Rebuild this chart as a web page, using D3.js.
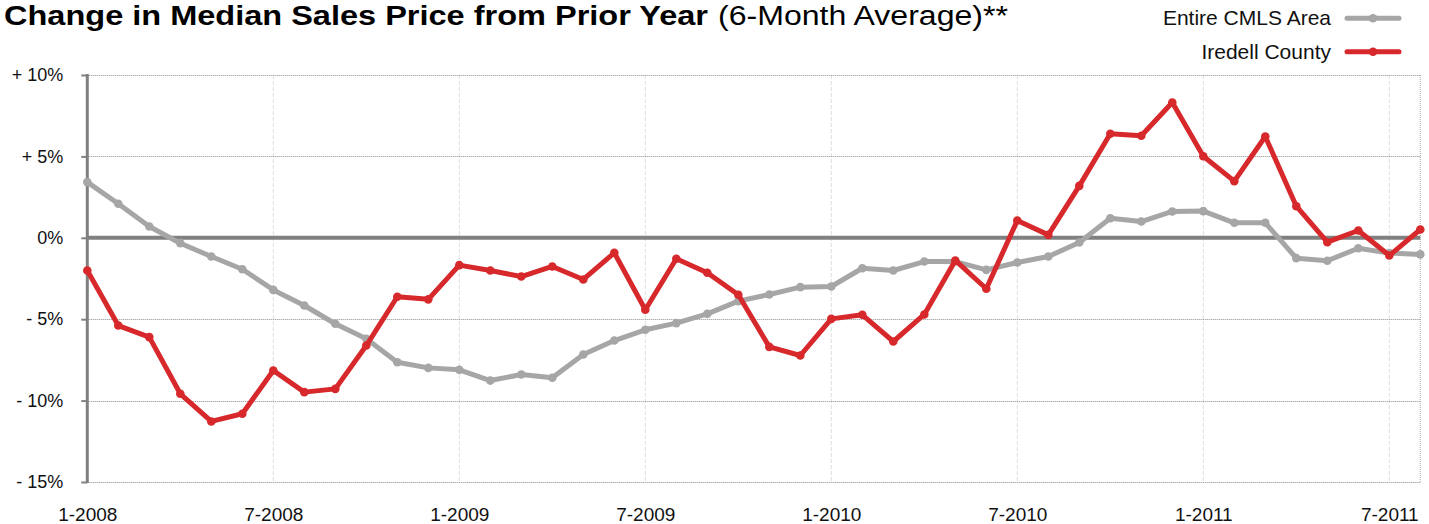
<!DOCTYPE html>
<html>
<head>
<meta charset="utf-8">
<script src="https://cdn.jsdelivr.net/npm/d3@7"></script>
<style>
  body { margin: 0; background: #fff; }
  svg { display: block; font-family: "Liberation Sans", Arial, Helvetica, sans-serif; }
</style>
</head>
<body>
<div id="container"></div>
<script>
/* CONSTANTS AND GLOBALS */
const width = 1429,
  height = 524,
  margin = {top: 75, bottom: 42, left: 87.3, right: 8.7};

// months on the x axis, 1-2008 .. 8-2011
const months = [
  "1-2008","2-2008","3-2008","4-2008","5-2008","6-2008","7-2008","8-2008","9-2008","10-2008","11-2008","12-2008",
  "1-2009","2-2009","3-2009","4-2009","5-2009","6-2009","7-2009","8-2009","9-2009","10-2009","11-2009","12-2009",
  "1-2010","2-2010","3-2010","4-2010","5-2010","6-2010","7-2010","8-2010","9-2010","10-2010","11-2010","12-2010",
  "1-2011","2-2011","3-2011","4-2011","5-2011","6-2011","7-2011","8-2011"
];

// Entire CMLS Area (grey)
const cmls = [
  3.42, 2.09, 0.69, -0.33, -1.15, -1.93, -3.2, -4.16, -5.28, -6.2, -7.64, -7.99,
  -8.11, -8.77, -8.4, -8.6, -7.17, -6.31, -5.65, -5.24, -4.67, -3.89, -3.48, -3.03,
  -2.99, -1.87, -2.01, -1.46, -1.46, -1.97, -1.52, -1.15, -0.29, 1.2, 1.0, 1.62,
  1.64, 0.92, 0.92, -1.25, -1.41, -0.64, -0.94, -1.02
];

// Iredell County (red)
const iredell = [
  -2.01, -5.39, -6.1, -9.58, -11.28, -10.81, -8.15, -9.48, -9.28, -6.62, -3.62, -3.78,
  -1.68, -2.01, -2.38, -1.76, -2.56, -0.92, -4.42, -1.29, -2.15, -3.5, -6.7, -7.23,
  -4.98, -4.73, -6.37, -4.71, -1.39, -3.13, 1.06, 0.18, 3.19, 6.39, 6.27, 8.31,
  5.01, 3.48, 6.22, 1.94, -0.27, 0.45, -1.09, 0.51
];

const xTickLabels = ["1-2008","7-2008","1-2009","7-2009","1-2010","7-2010","1-2011","7-2011"];
const yTicks = [10, 5, 0, -5, -10, -15];
const yTickLabels = ["+ 10%", "+ 5%", "0%", "- 5%", "- 10%", "- 15%"];

const seriesNames = ["Entire CMLS Area", "Iredell County"];
const seriesColors = ["#a6a6a6", "#d7282b"];

/* INITIALIZING */
const svg = d3.select("#container")
  .append("svg")
  .attr("width", width)
  .attr("height", height);

const xScale = d3.scalePoint()
  .domain(months)
  .range([margin.left, width - margin.right]);

const yScale = d3.scaleLinear()
  .domain([-15, 10])
  .range([height - margin.bottom, margin.top]);

// title (bold part + regular part)
svg.append("text")
  .attr("x", 4).attr("y", 25)
  .attr("font-family", "'Liberation Sans Narrow', 'Arial Narrow', sans-serif")
  .attr("font-weight", "bold")
  .attr("font-size", 27)
  .attr("textLength", 704)
  .attr("lengthAdjust", "spacingAndGlyphs")
  .text("Change in Median Sales Price from Prior Year");

svg.append("text")
  .attr("x", 718).attr("y", 25)
  .attr("font-family", "'Liberation Sans Narrow', 'Arial Narrow', sans-serif")
  .attr("font-size", 27)
  .attr("textLength", 290)
  .attr("lengthAdjust", "spacingAndGlyphs")
  .text("(6-Month Average)**");

// vertical grid (every 6 months)
svg.append("g")
  .selectAll("line")
  .data(xTickLabels.slice(1))
  .join("line")
  .attr("x1", d => xScale(d)).attr("x2", d => xScale(d))
  .attr("y1", yScale(10)).attr("y2", yScale(-15))
  .attr("stroke", "#dedede")
  .attr("stroke-width", 1)
  .attr("stroke-dasharray", "4,2");

// right border
svg.append("line")
  .attr("x1", xScale.range()[1]).attr("x2", xScale.range()[1])
  .attr("y1", yScale(10)).attr("y2", yScale(-15))
  .attr("stroke", "#aaa")
  .attr("stroke-dasharray", "1,1");

// horizontal grid (dotted)
svg.append("g")
  .selectAll("line")
  .data(yTicks.filter(d => d !== 0))
  .join("line")
  .attr("x1", margin.left).attr("x2", width - margin.right)
  .attr("y1", d => Math.round(yScale(d)) + 0.5).attr("y2", d => Math.round(yScale(d)) + 0.5)
  .attr("stroke", "#8c8c8c")
  .attr("stroke-width", 1)
  .attr("stroke-dasharray", "1,1");

// zero line
svg.append("line")
  .attr("x1", margin.left).attr("x2", width - margin.right)
  .attr("y1", yScale(0)).attr("y2", yScale(0))
  .attr("stroke", "#808080")
  .attr("stroke-width", 4);

// y axis
const yAxis = d3.axisLeft(yScale)
  .tickValues(yTicks)
  .tickSize(6)
  .tickPadding(18)
  .tickFormat((d, i) => yTickLabels[i]);

const yAxisGroup = svg.append("g")
  .attr("transform", `translate(${margin.left},0)`)
  .call(yAxis);
yAxisGroup.select(".domain")
  .attr("stroke", "#808080").attr("stroke-width", 3)
  .attr("d", `M0,${yScale(10) - 1}V${yScale(-15) + 1}`);
yAxisGroup.selectAll(".tick line").attr("stroke", "#808080").attr("stroke-width", 2);
yAxisGroup.selectAll(".tick text")
  .attr("font-size", 18)
  .attr("font-family", "'Liberation Sans', Arial, sans-serif")
  .attr("fill", "#111");

// x axis
const xAxis = d3.axisBottom(xScale)
  .tickValues(xTickLabels)
  .tickSize(0)
  .tickPadding(26);

const xAxisGroup = svg.append("g")
  .attr("transform", `translate(0,${yScale(-15)})`)
  .call(xAxis);
xAxisGroup.select(".domain").remove();
xAxisGroup.selectAll(".tick text")
  .attr("font-size", 19)
  .attr("font-family", "'Liberation Sans', Arial, sans-serif")
  .attr("fill", "#111");

/* DRAW */
const series = [cmls, iredell];
const line = d3.line()
  .x((d, i) => xScale(months[i]))
  .y(d => yScale(d));

series.forEach((vals, s) => {
  const g = svg.append("g");
  g.append("path")
    .datum(vals)
    .attr("d", line)
    .attr("fill", "none")
    .attr("stroke", seriesColors[s])
    .attr("stroke-width", 5)
    .attr("stroke-linejoin", "round")
    .attr("stroke-linecap", "round");
  g.selectAll("circle")
    .data(vals)
    .join("circle")
    .attr("cx", (d, i) => xScale(months[i]))
    .attr("cy", d => yScale(d))
    .attr("r", 4.3)
    .attr("fill", seriesColors[s]);
});

// legend
const legend = svg.append("g");
seriesNames.forEach((name, s) => {
  const y = 18.3 + s * 33.4;
  legend.append("text")
    .attr("x", 1331).attr("y", y + 7)
    .attr("text-anchor", "end")
    .attr("font-size", 21)
    .attr("fill", "#111")
    .text(name);
  legend.append("line")
    .attr("x1", 1347).attr("x2", 1399)
    .attr("y1", y).attr("y2", y)
    .attr("stroke", seriesColors[s])
    .attr("stroke-width", 5)
    .attr("stroke-linecap", "round");
  legend.append("circle")
    .attr("cx", 1373).attr("cy", y).attr("r", 4.3)
    .attr("fill", seriesColors[s]);
});
</script>
</body>
</html>
